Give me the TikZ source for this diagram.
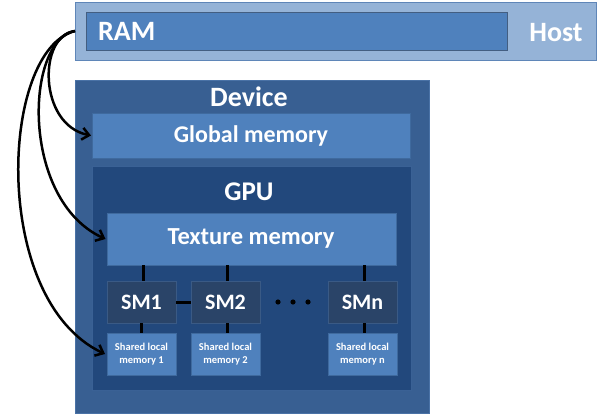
\documentclass[tikz,border=0pt]{standalone}
\usepackage{fontspec}
\setmainfont{Carlito}
\usetikzlibrary{arrows.meta}
\definecolor{hostfill}{HTML}{95B3D7}
\definecolor{hostdraw}{HTML}{5F86B8}
\definecolor{midblue}{HTML}{4F81BD}
\definecolor{midedge}{HTML}{3F6A9E}
\definecolor{devfill}{HTML}{385F92}
\definecolor{devedge}{HTML}{4A72A6}
\definecolor{gpufill}{HTML}{22487C}
\definecolor{smfill}{HTML}{2A4468}
\definecolor{smedge}{HTML}{3A5A85}
\tikzset{
  box/.style={rectangle, inner sep=0pt, outer sep=0pt, line width=0.8pt},
  lbl/.style={text=white, font=\bfseries, inner sep=0pt},
  link/.style={black, line width=3pt},
  feed/.style={black, line width=2.5pt, -{Straight Barb[length=7pt,width=12pt,line width=2.5pt]}},
}
\begin{document}
\begin{tikzpicture}[x=1pt,y=-1pt]
\useasboundingbox (0,0) rectangle (597,414);
% host
\node[box, fill=hostfill, draw=hostdraw, minimum width=521pt, minimum height=58pt] (host) at (335.5,31) {};
\node[box, fill=midblue, draw=hostdraw!70!black, minimum width=421pt, minimum height=38pt] (ram) at (296.5,31) {};
\node[lbl, anchor=west, font=\bfseries\fontsize{28}{28}\selectfont] (ramtxt) at (98,31) {RAM};
\node[lbl, font=\bfseries\fontsize{28}{28}\selectfont] (hosttxt) at (556,33) {Host};
% device
\node[box, fill=devfill, draw=devedge, minimum width=354pt, minimum height=333pt] (dev) at (252,246.5) {};
\node[lbl, font=\bfseries\fontsize{28}{28}\selectfont] (devtxt) at (249,97) {Device};
\node[box, fill=midblue, draw=midedge, minimum width=318pt, minimum height=45pt] (glob) at (251,135.5) {};
\node[lbl, font=\bfseries\fontsize{24}{24}\selectfont] (globtxt) at (251,136) {Global memory};
% gpu
\node[box, fill=gpufill, draw=devedge!60!gpufill, minimum width=319pt, minimum height=224pt] (gpu) at (251.5,278) {};
\node[lbl, font=\bfseries\fontsize{27}{27}\selectfont] (gputxt) at (249,192) {GPU};
\node[box, fill=midblue, draw=midedge, minimum width=289pt, minimum height=52pt] (tex) at (252,239) {};
\node[lbl, font=\bfseries\fontsize{24.5}{24.5}\selectfont] (textxt) at (251,238) {Texture memory};
% SMs
\tikzset{sm/.style={box, fill=smfill, draw=smedge, minimum width=69pt, minimum height=42pt, lbl, font=\bfseries\fontsize{22}{22}\selectfont},
         sh/.style={box, fill=midblue, draw=midedge, minimum width=69pt, minimum height=42pt, lbl, align=center, font=\bfseries\fontsize{10.5}{12.5}\selectfont}}
\node[sm] (sm1) at (141.5,302) {SM1};
\node[sm] (sm2) at (225.5,302) {SM2};
\node[sm] (smn) at (362.5,302) {SMn};
\node[sh] (sh1) at (141.5,354) {Shared local\\memory 1};
\node[sh] (sh2) at (225.5,354) {Shared local\\memory 2};
\node[sh] (shn) at (362.5,354) {Shared local\\memory n};
% dots
\node[inner sep=0pt] (dots) at (293,302) {};
\foreach \dx in {-15,0,15} \fill[black] ([xshift=\dx pt]dots) circle (2.6pt);
% links
\draw[link] ([xshift=2pt]tex.south -| sm1) -- ([xshift=2pt]sm1.north);
\draw[link] ([xshift=2pt]tex.south -| sm2) -- ([xshift=2pt]sm2.north);
\draw[link] ([xshift=2pt]tex.south -| smn) -- ([xshift=2pt]smn.north);
\draw[link] (sm1.east) -- (sm2.west);
\draw[link] (sm1.south) -- (sh1.north);
\draw[link] ([xshift=2pt]sm2.south) -- ([xshift=2pt]sh2.north);
\draw[link] ([xshift=2pt]smn.south) -- ([xshift=2pt]shn.north);
% arrows from RAM
\coordinate (src) at (host.west);
\draw[feed] (src) .. controls (38,35) and (38,125) .. ([xshift=-1pt]glob.west);
\draw[feed] (src) .. controls (25,40) and (20,200) .. ([xshift=-2pt]tex.west);
\draw[feed] (src) .. controls (0,50) and (-10,300) .. ([xshift=-2pt]sh1.west);
\end{tikzpicture}
\end{document}
